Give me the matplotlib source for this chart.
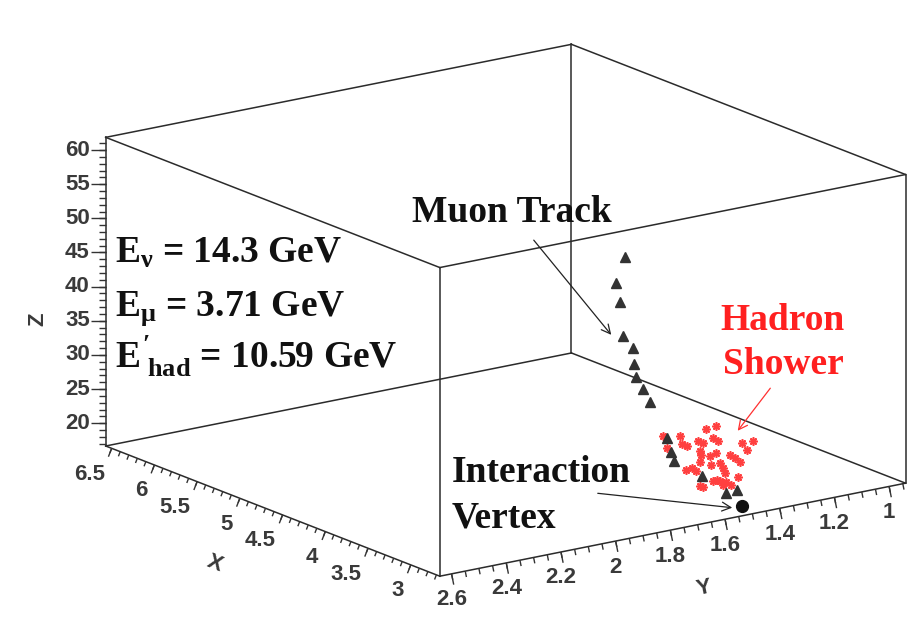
import numpy as np
import matplotlib
matplotlib.use("Agg")
import matplotlib.pyplot as plt

plt.rcParams['mathtext.fontset'] = 'custom'
plt.rcParams['mathtext.rm'] = 'Liberation Serif:bold'
plt.rcParams['mathtext.it'] = 'Liberation Serif:bold'
plt.rcParams['mathtext.bf'] = 'Liberation Serif:bold'

# ---- detector frame ranges ----
x_range = (2.66, 6.57)
y_range = (0.94, 2.643)
z_range = (16.66, 61.86)

x_ticks = [3.0, 3.5, 4.0, 4.5, 5.0, 5.5, 6.0, 6.5]
x_ticklabels = ['3', '3.5', '4', '4.5', '5', '5.5', '6', '6.5']
y_ticks = [1.0, 1.2, 1.4, 1.6, 1.8, 2.0, 2.2, 2.4, 2.6]
y_ticklabels = ['1', '1.2', '1.4', '1.6', '1.8', '2', '2.2', '2.4', '2.6']
z_ticks = [20, 25, 30, 35, 40, 45, 50, 55, 60]
z_ticklabels = ['20', '25', '30', '35', '40', '45', '50', '55', '60']

# ---- event: interaction vertex ----
vertex_x = [2.81]
vertex_y = [1.49]
vertex_z = [17.0]

# ---- event: muon track hits ----
muon_x = [2.97, 2.97, 3.02, 3.07, 3.07, 3.12, 3.22, 3.27, 3.32, 3.37, 3.42, 3.47, 3.57, 3.62, 3.67]
muon_y = [1.46, 1.50, 1.57, 1.66, 1.67, 1.67, 1.70, 1.71, 1.72, 1.71, 1.70, 1.72, 1.70, 1.70, 1.65]
muon_z = [18.35, 18.15, 21.05, 23.6, 25.1, 26.8, 31.9, 33.6, 35.3, 36.8, 38.9, 40.5, 44.9, 47.3, 50.6]

# ---- event: hadron shower hits ----
had_x = [3.12, 2.97, 3.07, 2.87, 3.02, 3.17, 2.92, 3.12, 2.97, 3.07, 2.87, 3.02, 3.17,
         2.92, 3.12, 2.97, 3.07, 2.87, 3.02, 3.17, 2.92, 3.12, 2.97, 3.07, 2.87, 3.02,
         3.17, 2.92, 3.12, 2.97, 3.07, 2.87, 3.02, 3.17, 2.92, 3.12, 2.97, 2.97]
had_y = [1.683, 1.717, 1.631, 1.675, 1.586, 1.521, 1.587, 1.488, 1.547, 1.497, 1.627, 1.574,
         1.533, 1.575, 1.488, 1.553, 1.491, 1.517, 1.452, 1.380, 1.440, 1.354, 1.449, 1.613,
         1.657, 1.592, 1.448, 1.520, 1.476, 1.547, 1.467, 1.542, 1.580, 1.521, 1.471, 1.433,
         1.534, 1.669]
had_z = [27.30, 26.51, 25.91, 27.00, 26.18, 24.69, 28.49, 27.10, 26.61, 25.32, 25.78, 24.14,
         22.09, 24.38, 23.20, 22.75, 22.01, 24.41, 22.67, 23.56, 24.28, 23.97, 22.39, 22.01,
         23.59, 21.83, 20.44, 21.51, 18.95, 20.25, 19.12, 20.22, 19.54, 18.25, 20.53, 18.12,
         20.40, 27.82]

energy_lines = [r"$E_{\nu}$ = 14.3 GeV", r"$E_{\mu}$ = 3.71 GeV", r"$E^{\prime}_{\ had}$ = 10.59 GeV"]

W, H = 912, 618
fig = plt.figure(figsize=(W / 100, H / 100), dpi=100)
fig.patch.set_facecolor('white')

ax = fig.add_axes([0, 0, 1, 1], projection='3d', proj_type='ortho', computed_zorder=False)
ax.set_xlim(*x_range)
ax.set_ylim(*y_range)
ax.set_zlim(*z_range)
ax.set_box_aspect((1.0, 0.998, 0.56))
ax.view_init(elev=16.2, azim=144.4)
ax.set_axis_off()

edge_kw = dict(color='#2b2b2b', lw=1.1, zorder=1)
for yv in y_range:
    for zv in z_range:
        ax.plot(x_range, [yv, yv], [zv, zv], **edge_kw)
for xv in x_range:
    for zv in z_range:
        ax.plot([xv, xv], y_range, [zv, zv], **edge_kw)
for xv in x_range:
    for yv in y_range:
        ax.plot([xv, xv], [yv, yv], z_range, **edge_kw)

ax.plot(had_x, had_y, had_z, linestyle='none', marker=(8, 2, 0), ms=6, mew=1.2,
        color='#ff4040', zorder=3)
ax.plot(muon_x, muon_y, muon_z, linestyle='none', marker='^', ms=7.5,
        color='#333333', zorder=4)
ax.plot(vertex_x, vertex_y, vertex_z, linestyle='none', marker='o', ms=8.5,
        color='#111111', zorder=5)


def project(xs, ys, zs):
    """Data coordinates -> display pixels through the 3D axes projection."""
    M = ax.get_proj()
    pts = np.vstack([np.atleast_1d(xs), np.atleast_1d(ys), np.atleast_1d(zs),
                     np.ones(np.size(xs))]).astype(float)
    v = M @ pts
    px, py = v[0] / v[3], v[1] / v[3]
    return ax.transData.transform(np.column_stack([px, py]))


# fit the frame so the box sits where it belongs on the canvas
corner_a = np.array([105.7, H - 446.0])
corner_b = np.array([905.7, H - 175.0])
size, cx, cy = 700.0, W / 2, H / 2
for _ in range(4):
    ax.set_position([(cx - size / 2) / W, (cy - size / 2) / H, size / W, size / H])
    fig.canvas.draw()
    a, b = project([x_range[1], x_range[0]], [y_range[1], y_range[0]], [z_range[0], z_range[1]])
    f = np.hypot(*(corner_b - corner_a)) / np.hypot(*(b - a))
    new_c = corner_a - f * (a - np.array([cx, cy]))
    size *= f
    cx, cy = new_c
ax.set_position([(cx - size / 2) / W, (cy - size / 2) / H, size / W, size / H])
fig.canvas.draw()

# 2D overlay in pixel units (y downwards) for axes decorations and annotations
ov = fig.add_axes([0, 0, 1, 1])
ov.set_xlim(0, W)
ov.set_ylim(H, 0)
ov.set_axis_off()
fig.canvas.draw()
inv = ov.transData.inverted()


def to_ov(xs, ys, zs):
    return inv.transform(project(xs, ys, zs))


tick_color = '#333333'
lab_kw = dict(family='Liberation Sans', weight='bold', fontsize=16, color='#3a3a3a')


def draw_ticks(pts, normal, length):
    for (px, py) in pts:
        ov.plot([px, px + normal[0] * length], [py, py + normal[1] * length],
                color=tick_color, lw=1.0, solid_capstyle='butt')


# Z axis (left vertical edge)
z_minor = np.arange(17, 62, 1.0)
zm = to_ov(np.full(z_minor.size, x_range[1]), np.full(z_minor.size, y_range[1]), z_minor)
draw_ticks(zm, (-1, 0), 7)
zM = to_ov(np.full(len(z_ticks), x_range[1]), np.full(len(z_ticks), y_range[1]), z_ticks)
draw_ticks(zM, (-1, 0), 15)
for (px, py), s in zip(zM, z_ticklabels):
    ov.text(px - 16, py, s, ha='right', va='center', **lab_kw)
zc = to_ov([x_range[1]], [y_range[1]], [0.5 * (z_range[0] + z_range[1]) - 4])[0]
ov.text(38, zc[1], 'Z', rotation=90, ha='center', va='center', **lab_kw)

# X axis (front-left bottom edge)
p0 = to_ov([x_range[1]], [y_range[1]], [z_range[0]])[0]
p1 = to_ov([x_range[0]], [y_range[1]], [z_range[0]])[0]
d = (p1 - p0) / np.hypot(*(p1 - p0))
nx = np.array([-d[1], d[0]])
if nx[1] < 0:
    nx = -nx
x_minor = np.round(np.arange(2.7, 6.55, 0.1), 2)
xm = to_ov(x_minor, np.full(x_minor.size, y_range[1]), np.full(x_minor.size, z_range[0]))
draw_ticks(xm, nx, 5)
xM = to_ov(x_ticks, np.full(len(x_ticks), y_range[1]), np.full(len(x_ticks), z_range[0]))
draw_ticks(xM, nx, 9)
for (px, py), s in zip(xM, x_ticklabels):
    ov.text(px - 7, py + 26, s, ha='right', va='center', **lab_kw)
ang_x = -np.degrees(np.arctan2(d[1], d[0]))
ov.text(215, 564, 'X', rotation=ang_x, ha='center', va='center', **lab_kw)

# Y axis (front-right bottom edge)
q0 = to_ov([x_range[0]], [y_range[1]], [z_range[0]])[0]
q1 = to_ov([x_range[0]], [y_range[0]], [z_range[0]])[0]
e = (q1 - q0) / np.hypot(*(q1 - q0))
ny = np.array([-e[1], e[0]])
if ny[1] < 0:
    ny = -ny
y_minor = np.round(np.arange(0.95, 2.64, 0.05), 2)
ym = to_ov(np.full(y_minor.size, x_range[0]), y_minor, np.full(y_minor.size, z_range[0]))
draw_ticks(ym, ny, 6)
yM = to_ov(np.full(len(y_ticks), x_range[0]), y_ticks, np.full(len(y_ticks), z_range[0]))
draw_ticks(yM, ny, 11)
for (px, py), s in zip(yM, y_ticklabels):
    ov.text(px, py + 26, s, ha='center', va='center', **lab_kw)
ang_y = -np.degrees(np.arctan2(e[1], e[0]))
ov.text(704, 588, 'Y', rotation=ang_y, ha='center', va='center', **lab_kw)

# energy summary
txt_kw = dict(family='Liberation Serif', weight='bold', fontsize=27, color='#111111')
for i, s in enumerate(energy_lines):
    ov.text(115, 263 + 52.5 * i, s, ha='left', va='baseline', **txt_kw)

# labels with pointers
ov.text(412, 222, 'Muon Track', ha='left', va='baseline', **txt_kw)
ov.annotate('', xy=(613, 337), xytext=(532, 238),
            arrowprops=dict(arrowstyle='->', color='#222222', lw=0.9, mutation_scale=16))

red_kw = dict(txt_kw)
red_kw['color'] = '#ff2020'
ov.text(783, 330, 'Hadron', ha='center', va='baseline', **red_kw)
ov.text(783, 374, 'Shower', ha='center', va='baseline', **red_kw)
ov.annotate('', xy=(736, 433), xytext=(772, 386),
            arrowprops=dict(arrowstyle='->', color='#ff3030', lw=0.9, mutation_scale=16))

ov.text(452, 482, 'Interaction', ha='left', va='baseline', **txt_kw)
ov.text(452, 527, 'Vertex', ha='left', va='baseline', **txt_kw)
ov.annotate('', xy=(735, 508), xytext=(595, 493),
            arrowprops=dict(arrowstyle='->', color='#222222', lw=0.9, mutation_scale=16))

fig.savefig('out.png', dpi=100, facecolor='white')
